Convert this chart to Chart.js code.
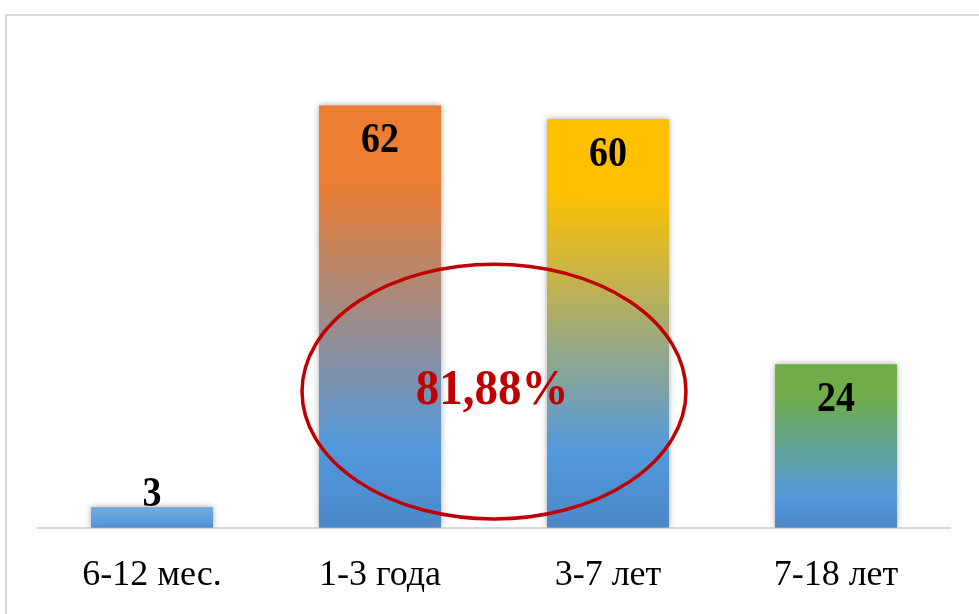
<!DOCTYPE html>
<html>
<head>
<meta charset="utf-8">
<script src="https://cdn.jsdelivr.net/npm/chart.js@4.4.1/dist/chart.umd.min.js"></script>
<style>
  html, body { margin: 0; padding: 0; background: #fff; }
</style>
</head>
<body>
<canvas id="myChart" width="979" height="614"></canvas>
<script>
// data
const categories = ['6-12 мес.', '1-3 года', '3-7 лет', '7-18 лет'];
const counts = [3, 62, 60, 24];
const topColors = ['#6fa8dc', '#ED7D31', '#FFC000', '#70AD47'];
const highlightText = '81,88%';

// gradient: top colour fades into blue near the base
function barFill(ctx) {
    const chart = ctx.chart;
    const i = ctx.dataIndex;
    if (!chart.chartArea || i === undefined) return topColors[i] || '#5b9bd5';
    const yScale = chart.scales.y;
    const top = yScale.getPixelForValue(counts[i]);
    const bottom = yScale.getPixelForValue(0);
    const g = chart.ctx.createLinearGradient(0, top, 0, bottom);
    g.addColorStop(0, topColors[i]);
    g.addColorStop(0.18, topColors[i]);
    g.addColorStop(0.81, '#5399dc');
    g.addColorStop(1, '#4a88c8');
    return g;
}

const frame = {
    id: 'frame',
    beforeDraw(chart) {
        const c = chart.ctx;
        c.save();
        c.fillStyle = '#fff';
        c.fillRect(0, 0, chart.width, chart.height);
        c.strokeStyle = '#d9d9d9';
        c.lineWidth = 2;
        c.strokeRect(6, 15, chart.width + 20, chart.height + 20);
        c.restore();
    }
};

const barShadow = {
    id: 'barShadow',
    beforeDatasetsDraw(chart) {
        const c = chart.ctx;
        c.save();
        c.shadowColor = 'rgba(0,0,0,0.35)';
        c.shadowBlur = 6;
        c.shadowOffsetX = 0;
        c.shadowOffsetY = 0;
    },
    afterDatasetsDraw(chart) {
        chart.ctx.restore();
    }
};

function stretchedText(c, text, x, y) {
    // text in the reference is a little taller than wide
    c.save();
    c.translate(x, y);
    c.scale(1, 1.1);
    c.fillText(text, 0, 0);
    c.restore();
}

const overlay = {
    id: 'overlay',
    afterDraw(chart) {
        const c = chart.ctx;
        const xs = chart.scales.x, ys = chart.scales.y;
        const meta = chart.getDatasetMeta(0);

        // value labels
        c.save();
        c.fillStyle = '#000';
        c.font = 'bold 38px "Liberation Serif", "Times New Roman", serif';
        c.textAlign = 'center';
        c.textBaseline = 'middle';
        meta.data.forEach((bar, i) => {
            const h = bar.base - bar.y;
            const y = h > 80 ? bar.y + 36 : bar.y - 12;
            stretchedText(c, String(counts[i]), bar.x, y);
        });
        c.restore();

        // ellipse between the 2nd and 3rd bar
        const cx = (xs.getPixelForValue(1) + xs.getPixelForValue(2)) / 2;
        const cy = ys.getPixelForValue(20);
        const step = xs.getPixelForValue(1) - xs.getPixelForValue(0);
        c.save();
        c.strokeStyle = '#C00000';
        c.lineWidth = 3.5;
        c.beginPath();
        c.ellipse(cx, cy, step * 0.842, ys.getPixelForValue(0) - ys.getPixelForValue(18.7), 0, 0, Math.PI * 2);
        c.stroke();
        c.fillStyle = '#C00000';
        c.font = 'bold 47px "Liberation Serif", "Times New Roman", serif';
        c.textAlign = 'center';
        c.textBaseline = 'middle';
        stretchedText(c, highlightText, cx - 2, cy - 1);
        c.restore();
    }
};

const config = {
    type: 'bar',
    data: {
        labels: categories,
        datasets: [
            {
                data: counts,
                backgroundColor: barFill,
                borderWidth: 0,
                barPercentage: 0.535,
                categoryPercentage: 1
            }
        ]
    },
    options: {
        responsive: false,
        animation: false,
        layout: { padding: { left: 38, right: 29, top: 51, bottom: -9 } },
        plugins: {
            legend: { display: false },
            tooltip: { enabled: false }
        },
        scales: {
            x: {
                grid: { display: false, drawTicks: false },
                border: { display: true, color: '#d9d9d9', width: 2 },
                ticks: {
                    color: '#000',
                    padding: 26,
                    font: { family: '"Liberation Serif", "Times New Roman", serif', size: 36 }
                }
            },
            y: { display: false, min: 0, max: 70 }
        }
    },
    plugins: [frame, barShadow, overlay]
};

var myChart = new Chart(document.getElementById('myChart'), config);
</script>
</body>
</html>
